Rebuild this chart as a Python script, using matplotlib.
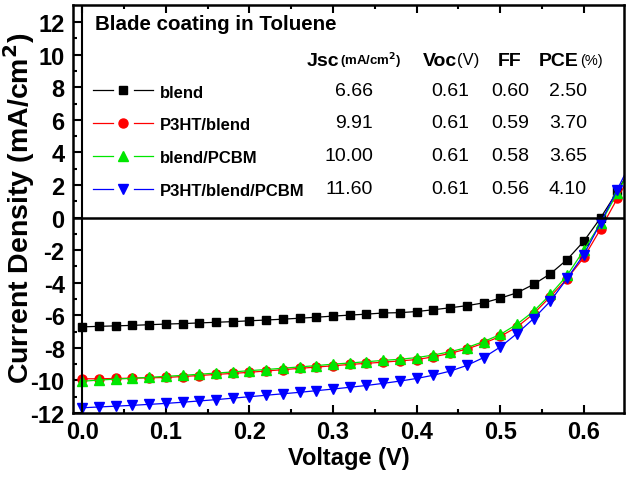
import numpy as np
import matplotlib
matplotlib.use('Agg')
import matplotlib.pyplot as plt
from matplotlib.transforms import Affine2D
from matplotlib.lines import Line2D

plt.rcParams['font.family'] = ['Liberation Sans', 'DejaVu Sans']
plt.rcParams['axes.unicode_minus'] = False

# voltage (V), one point every 0.02 V
volt = [0.00, 0.02, 0.04, 0.06, 0.08, 0.10, 0.12, 0.14, 0.16, 0.18,
        0.20, 0.22, 0.24, 0.26, 0.28, 0.30, 0.32, 0.34, 0.36, 0.38,
        0.40, 0.42, 0.44, 0.46, 0.48, 0.50, 0.52, 0.54, 0.56, 0.58,
        0.60, 0.62, 0.64, 0.66]

# current density (mA/cm2)
j_blend = [-6.71, -6.68, -6.65, -6.62, -6.58, -6.54, -6.51, -6.47, -6.43, -6.39,
           -6.34, -6.29, -6.24, -6.18, -6.12, -6.05, -5.99, -5.93, -5.86, -5.84,
           -5.77, -5.66, -5.54, -5.41, -5.24, -4.95, -4.62, -4.10, -3.45, -2.58,
           -1.45, -0.02, 1.60, 3.40]
j_p3ht_blend = [-9.90, -9.90, -9.88, -9.86, -9.84, -9.82, -9.76, -9.70, -9.63, -9.57,
                -9.50, -9.42, -9.34, -9.26, -9.18, -9.10, -9.02, -8.95, -8.88, -8.80,
                -8.72, -8.55, -8.34, -8.07, -7.72, -7.30, -6.72, -5.90, -4.85, -3.75,
                -2.45, -0.70, 1.17, 3.00]
j_blend_pcbm = [-10.05, -9.98, -9.92, -9.87, -9.81, -9.75, -9.69, -9.62, -9.55, -9.48,
                -9.40, -9.33, -9.25, -9.17, -9.09, -9.00, -8.93, -8.85, -8.77, -8.70,
                -8.60, -8.44, -8.24, -7.98, -7.62, -7.18, -6.55, -5.75, -4.72, -3.55,
                -2.00, -0.35, 1.50, 3.40]
j_all = [-11.68, -11.63, -11.58, -11.53, -11.47, -11.41, -11.34, -11.26, -11.18, -11.09,
         -11.00, -10.91, -10.82, -10.73, -10.63, -10.53, -10.42, -10.31, -10.18, -10.04,
         -9.88, -9.68, -9.43, -9.08, -8.60, -7.95, -7.12, -6.20, -5.13, -3.74,
         -2.27, -0.33, 1.72, 3.80]

names = ['blend', 'P3HT/blend', 'blend/PCBM', 'P3HT/blend/PCBM']
jsc = ['6.66', '9.91', '10.00', '11.60']
voc = ['0.61', '0.61', '0.61', '0.61']
ff = ['0.60', '0.59', '0.58', '0.56']
pce = ['2.50', '3.70', '3.65', '4.10']

series = [j_blend, j_p3ht_blend, j_blend_pcbm, j_all]
colors = ['black', '#ff0000', '#00e600', '#0000ff']
markers = ['s', 'o', '^', 'v']
msizes = [6, 6.5, 7, 7]

fig = plt.figure(figsize=(6.33, 4.81), dpi=100)
ax = fig.add_axes([73/633, 1-414/481, (624-73)/633, (414-6)/481])

for j, c, m, ms in zip(series, colors, markers, msizes):
    ax.plot(volt, j, color=c, lw=0.9, marker=m, ms=ms, mec=c, mfc=c)

ax.axhline(0, color='black', lw=1.8)
ax.axvline(0, color='black', lw=1.5)

ax.set_xlim(-0.011, 0.648)
ax.set_ylim(-12, 13.05)
ax.set_xticks(np.arange(0, 0.61, 0.1))
ax.set_xticks(np.arange(0.05, 0.65, 0.1), minor=True)
ax.set_yticks(np.arange(-12, 13, 2))
ax.set_yticks(np.arange(-11, 13, 2), minor=True)
ax.set_xticklabels(['0.0', '0.1', '0.2', '0.3', '0.4', '0.5', '0.6'])
ax.tick_params(which='both', direction='in', width=1.5, labelsize=17, top=True)
ax.tick_params(which='major', length=6)
ax.tick_params(which='minor', length=3)
ax.tick_params(axis='x', pad=5)
ax.tick_params(axis='y', pad=6)
for lab in ax.get_xticklabels() + ax.get_yticklabels():
    lab.set_fontweight('bold')
for s in ax.spines.values():
    s.set_linewidth(1.8)

ax.set_xlabel('Voltage (V)', fontsize=17, fontweight='bold', labelpad=2)
ax.set_ylabel('Current Density (mA/cm$^\\mathbf{2}$)', fontsize=20.5,
              fontweight='bold')
ax.yaxis.set_label_coords(-0.066, 0.505)

# legend / table drawn in pixel coordinates (y from top)
pix = Affine2D().scale(1/633, -1/481).translate(0, 1) + fig.transFigure

fig.text(95, 25, 'Blade coating in Toluene', transform=pix, fontsize=14.8,
         fontweight='bold', va='center')

hy = 61
fig.text(307, hy, 'Jsc', transform=pix, fontsize=14, fontweight='bold', va='center')
fig.text(340, hy, '(mA/cm$^\\mathbf{2}$)', transform=pix, fontsize=9.5,
         fontweight='bold', va='center')
fig.text(423, hy, 'Voc', transform=pix, fontsize=14, fontweight='bold', va='center')
fig.text(457, hy, '(V)', transform=pix, fontsize=12, va='center')
fig.text(498, hy, 'FF', transform=pix, fontsize=14, fontweight='bold', va='center')
fig.text(539, hy, 'PCE', transform=pix, fontsize=14, fontweight='bold', va='center')
fig.text(580, hy, '(%)', transform=pix, fontsize=10.5, va='center')

rows_y = [91, 124, 157, 190]
for i, ry in enumerate(rows_y):
    c = colors[i]
    fig.add_artist(Line2D([93, 113], [ry, ry], transform=pix, color=c, lw=0.9))
    fig.add_artist(Line2D([134, 153], [ry, ry], transform=pix, color=c, lw=0.9))
    fig.add_artist(Line2D([123], [ry], transform=pix, color=c, marker=markers[i],
                          ms=msizes[i], mec=c, mfc=c, lw=0))
    fig.text(160, ry + 2, names[i], transform=pix, fontsize=12, fontweight='bold',
             va='center')
    fig.text(373, ry, jsc[i], transform=pix, fontsize=14, va='center', ha='right')
    fig.text(469, ry, voc[i], transform=pix, fontsize=14, va='center', ha='right')
    fig.text(529, ry, ff[i], transform=pix, fontsize=14, va='center', ha='right')
    fig.text(587, ry, pce[i], transform=pix, fontsize=14, va='center', ha='right')

fig.savefig('out.png', dpi=100)
